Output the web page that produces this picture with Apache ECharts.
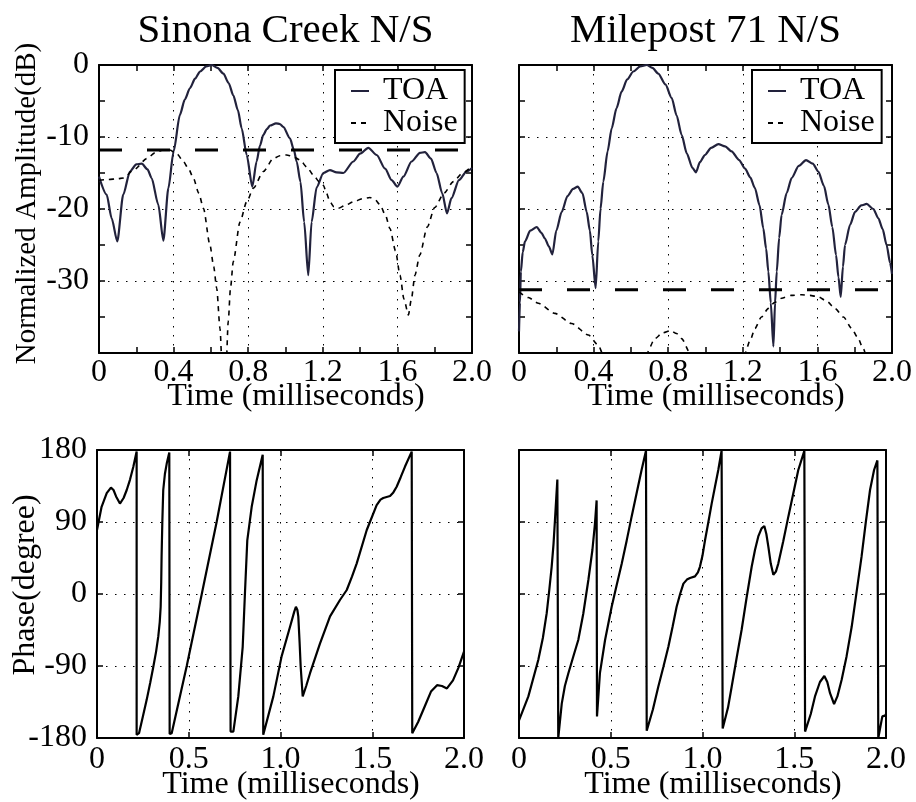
<!DOCTYPE html>
<html><head><meta charset="utf-8">
<script src="https://cdn.jsdelivr.net/npm/echarts@6/dist/echarts.min.js"></script>
<style>html,body{margin:0;padding:0;background:#fff}#c{width:916px;height:802px}</style>
</head><body><div id="c"></div>
<script>
// ---------- data ----------
const panelTitles = ['Sinona Creek N/S', 'Milepost 71 N/S'];
const seriesNames = ['TOA', 'Noise'];
const ampTickValues = [0, -10, -20, -30, -40];
const ampTickLabels = ['0', '-10', '-20', '-30', ''];
const ampTimeTickValues = [0, 0.4, 0.8, 1.2, 1.6, 2.0];
const ampTimeTickLabels = ['0', '0.4', '0.8', '1.2', '1.6', '2.0'];
const phaseTickValues = [180, 90, 0, -90, -180];
const phaseTickLabels = ['180', '90', '0', '-90', '-180'];
const phaseTimeTickValues = [0, 0.5, 1.0, 1.5, 2.0];
const phaseTimeTickLabels = ['0', '0.5', '1.0', '1.5', '2.0'];
const thresholdSinona = -11.8;
const thresholdMilepost = -31.2;

const sinonaToa = [[0,-15.5],[0.041,-18],[0.068,-21.3],[0.098,-24.5],[0.13,-18],[0.166,-14.8],[0.2,-13.8],[0.229,-13.7],[0.26,-14.5],[0.282,-15.7],[0.318,-19.4],[0.345,-24.4],[0.372,-17.1],[0.4,-12],[0.434,-6.9],[0.46,-4.8],[0.488,-3.2],[0.515,-1.9],[0.542,-0.9],[0.575,-0.2],[0.604,0],[0.635,-0.4],[0.667,-1.2],[0.695,-2.5],[0.72,-4.2],[0.745,-6.3],[0.765,-8.8],[0.792,-12.5],[0.822,-16.9],[0.845,-13.4],[0.863,-11.2],[0.881,-9.7],[0.9,-8.9],[0.917,-8.4],[0.949,-8.1],[0.97,-8.2],[0.988,-8.6],[1.024,-10.2],[1.045,-11.8],[1.06,-13.4],[1.08,-16.2],[1.1,-21.8],[1.122,-29.2],[1.14,-21.8],[1.167,-17],[1.203,-15],[1.238,-14.6],[1.274,-14.9],[1.31,-15],[1.364,-13.4],[1.4,-12.3],[1.444,-11.5],[1.489,-12.5],[1.534,-14.4],[1.569,-16],[1.6,-16.9],[1.632,-15.5],[1.676,-13.4],[1.721,-12.2],[1.748,-12.1],[1.78,-13],[1.81,-15],[1.84,-17.8],[1.866,-20.6],[1.89,-18.5],[1.93,-16],[1.97,-14.8],[2.0,-14.3]];
const sinonaNoise = [[0,-16],[0.05,-15.9],[0.1,-15.8],[0.13,-15.7],[0.19,-14.5],[0.256,-13],[0.3,-12.2],[0.345,-11.8],[0.38,-11.8],[0.42,-12.4],[0.452,-13.4],[0.48,-14.4],[0.506,-15.7],[0.535,-17.8],[0.56,-19.9],[0.595,-25],[0.615,-28],[0.631,-31],[0.649,-36.6],[0.66,-42],[0.67,-48],[0.68,-43],[0.693,-35.6],[0.705,-31],[0.72,-27.3],[0.756,-21.8],[0.792,-19],[0.828,-17.1],[0.881,-14.8],[0.935,-13],[0.97,-12.6],[1.006,-12.5],[1.04,-12.7],[1.078,-13.2],[1.115,-14.2],[1.15,-15.3],[1.18,-16.2],[1.203,-16.7],[1.22,-17.8],[1.238,-19],[1.26,-19.7],[1.283,-19.9],[1.32,-19.5],[1.364,-19],[1.41,-18.6],[1.453,-18.4],[1.48,-18.7],[1.507,-19.4],[1.535,-20.8],[1.56,-22.7],[1.59,-25.8],[1.614,-29.2],[1.635,-32.5],[1.659,-34.7],[1.675,-32.5],[1.694,-29.2],[1.72,-26.4],[1.76,-22.5],[1.8,-19.8],[1.85,-17.8],[1.9,-16.2],[1.95,-15],[2.0,-14]];
const milepostToa = [[0,-37],[0.005,-33],[0.01,-28.7],[0.02,-26],[0.032,-24.5],[0.06,-23],[0.095,-22.5],[0.12,-23.3],[0.139,-24.1],[0.16,-25.2],[0.179,-26.3],[0.2,-23],[0.229,-20.4],[0.26,-18.2],[0.29,-17.2],[0.315,-16.9],[0.34,-17.8],[0.363,-20.4],[0.38,-23],[0.393,-26.4],[0.411,-31],[0.425,-24.5],[0.437,-20],[0.452,-16.2],[0.475,-12],[0.497,-8.8],[0.523,-6],[0.55,-3.7],[0.58,-2],[0.613,-0.9],[0.65,-0.2],[0.685,0],[0.715,-0.4],[0.747,-1.2],[0.785,-2.7],[0.819,-4.6],[0.845,-7],[0.872,-9.7],[0.9,-12.3],[0.93,-14.3],[0.949,-14.9],[0.97,-13.5],[0.997,-12.5],[1.03,-11.5],[1.069,-11],[1.105,-11.3],[1.14,-12],[1.18,-13.2],[1.212,-14.4],[1.24,-15.6],[1.265,-17.1],[1.29,-19.5],[1.31,-22.7],[1.325,-25.5],[1.337,-28.7],[1.35,-33],[1.364,-39.1],[1.373,-33],[1.382,-28.7],[1.395,-24],[1.408,-20.8],[1.435,-17.8],[1.462,-15.7],[1.5,-14],[1.539,-13.2],[1.575,-13.7],[1.605,-14.8],[1.635,-16.8],[1.659,-19.4],[1.68,-22.5],[1.7,-26.4],[1.713,-29.5],[1.725,-32.2],[1.737,-28],[1.748,-25],[1.775,-22.2],[1.802,-20.4],[1.835,-19.5],[1.864,-19.3],[1.9,-20],[1.927,-21.3],[1.95,-22.8],[1.971,-25],[1.99,-27.5],[2.0,-29]];
const milepostNoise = [[0,-31.5],[0.05,-32.3],[0.104,-33.1],[0.193,-34.5],[0.282,-35.9],[0.372,-37.5],[0.425,-38.9],[0.452,-40.3],[0.48,-42.5],[0.52,-46],[0.55,-48],[0.62,-46],[0.685,-40],[0.729,-38],[0.77,-37.2],[0.813,-36.9],[0.845,-37.3],[0.872,-38],[0.917,-40],[0.95,-43],[1.0,-47],[1.1,-48],[1.18,-43],[1.212,-40],[1.24,-38.2],[1.265,-36.6],[1.3,-35],[1.337,-33.8],[1.37,-33],[1.408,-32.4],[1.46,-32],[1.516,-31.9],[1.56,-32],[1.605,-32.2],[1.65,-32.8],[1.694,-33.8],[1.74,-35],[1.784,-36.6],[1.815,-37.8],[1.846,-39.4],[1.87,-41],[1.92,-45],[2.0,-50]];
const sinonaPhase = [[0,80],[0.025,109],[0.053,126],[0.076,133],[0.09,130],[0.104,122],[0.125,113],[0.145,120],[0.162,130],[0.18,143],[0.198,159],[0.216,178],[0.216,-176],[0.229,-174],[0.25,-153],[0.271,-132],[0.29,-111],[0.307,-91],[0.322,-72],[0.334,-53],[0.342,-35],[0.347,-16],[0.35,15],[0.352,47],[0.356,90],[0.361,130],[0.37,150],[0.38,163],[0.394,177],[0.396,-175],[0.407,-174],[0.489,-90],[0.571,0],[0.652,90],[0.725,178],[0.728,-172],[0.743,-172],[0.77,-128],[0.794,-66],[0.807,5],[0.819,67],[0.843,109],[0.87,142],[0.903,174],[0.906,-176],[0.916,-176],[0.961,-128],[1.006,-78],[1.052,-41],[1.075,-22],[1.084,-16],[1.092,-20],[1.097,-28],[1.104,-60],[1.11,-91],[1.121,-128],[1.14,-115],[1.161,-99],[1.215,-62],[1.27,-28],[1.324,-7.5],[1.361,5],[1.39,22],[1.415,38],[1.47,80],[1.524,111],[1.545,118],[1.56,120],[1.597,122.5],[1.615,127],[1.633,134],[1.655,146],[1.678,159],[1.715,178],[1.718,-174],[1.75,-160],[1.787,-140],[1.82,-122],[1.853,-114],[1.88,-115],[1.907,-118],[1.94,-108],[1.97,-92],[2.0,-72]];
const milepostPhase = [[0,-158],[0.005,-157.5],[0.051,-128],[0.105,-82.5],[0.13,-55],[0.151,-24],[0.165,5],[0.178,34],[0.188,62],[0.196,92.5],[0.203,120],[0.209,143],[0.212,143],[0.214,-180],[0.22,-178],[0.233,-137],[0.25,-115],[0.269,-99],[0.3,-75],[0.323,-57.5],[0.35,-25],[0.378,17.5],[0.4,55],[0.414,88],[0.423,117],[0.425,-153],[0.441,-99],[0.469,-57.5],[0.505,-16],[0.533,12],[0.56,38],[0.587,67],[0.614,97],[0.64,125],[0.668,155],[0.692,179],[0.696,-171],[0.701,-171],[0.73,-144],[0.759,-116],[0.787,-91],[0.814,-66],[0.837,-41],[0.859,-16],[0.878,0],[0.896,13],[0.915,18],[0.932,20],[0.959,22],[0.975,27],[0.986,34],[1.0,48],[1.014,67.5],[1.032,90],[1.05,113],[1.068,134],[1.086,155],[1.104,179],[1.11,-168],[1.119,-168],[1.139,-142],[1.159,-116],[1.186,-80],[1.213,-45],[1.24,-5],[1.268,34],[1.286,55],[1.304,72],[1.322,82],[1.337,85],[1.348,75],[1.359,59],[1.372,38],[1.386,24],[1.4,28],[1.413,38],[1.44,66],[1.468,97],[1.495,126],[1.522,155],[1.555,179],[1.559,-172],[1.568,-172],[1.59,-150],[1.613,-128],[1.64,-110],[1.664,-102.5],[1.68,-110],[1.695,-124],[1.717,-137.5],[1.735,-128],[1.758,-107.5],[1.785,-78],[1.813,-41],[1.84,3],[1.867,47],[1.89,90],[1.913,130],[1.935,155],[1.953,167],[1.958,-180],[1.967,-178],[1.98,-153],[1.995,-152],[2.0,-150]];

// ---------- layout / style ----------
const FONT = 'Liberation Serif';
const grids = [
  {left: 99, top: 65, width: 373, height: 288},
  {left: 519, top: 65, width: 373, height: 288},
  {left: 97, top: 450, width: 367, height: 288},
  {left: 519, top: 450, width: 367, height: 288}
];
function lookup(vals, labels) {
  return function (v) {
    for (let i = 0; i < vals.length; i++) if (Math.abs(vals[i] - v) < 1e-6) return labels[i];
    return '';
  };
}
const gridLine = {show: true, lineStyle: {color: '#000', width: 1, type: [1.5, 7.5]}};
const axLine = {show: true, onZero: false, lineStyle: {color: '#000', width: 2}};
const tick = {show: true, inside: true, length: 6, lineStyle: {color: '#000', width: 1.5}};
const labelStyle = {color: '#000', fontFamily: FONT, fontSize: 32};

const xAxes = [], yAxes = [];
grids.forEach((g, gi) => {
  const amp = gi < 2;
  const xBase = {
    type: 'value', gridIndex: gi, min: 0, max: 2.0, interval: amp ? 0.4 : 0.5,
    axisLine: axLine, axisTick: tick, nameMoveOverlap: false,
    minorTick: amp ? {show: true, splitNumber: 2, length: 6, lineStyle: {color: '#000', width: 1.5}} : {show: false}
  };
  xAxes.push(Object.assign({}, xBase, {
    position: 'bottom', splitLine: gridLine,
    axisLabel: Object.assign({show: true, margin: amp ? 4 : 6,
      formatter: amp ? lookup(ampTimeTickValues, ampTimeTickLabels) : lookup(phaseTimeTickValues, phaseTimeTickLabels)}, labelStyle),
    name: 'Time (milliseconds)', nameLocation: 'middle', nameGap: amp ? 28 : 31,
    nameTextStyle: {color: '#000', fontFamily: FONT, fontSize: 32, padding: [0, 0, 0, 21]}
  }));
  xAxes.push(Object.assign({}, xBase, {position: 'top', splitLine: {show: false}, axisLabel: {show: false}}));
  const yBase = {
    type: 'value', gridIndex: gi,
    min: amp ? -40 : -180, max: amp ? 0 : 180, interval: amp ? 10 : 90,
    axisLine: axLine, axisTick: tick, nameMoveOverlap: false,
    minorTick: amp ? {show: true, splitNumber: 2, length: 6, lineStyle: {color: '#000', width: 1.5}} : {show: false}
  };
  const showLab = (gi === 0 || gi === 2);
  yAxes.push(Object.assign({}, yBase, {
    position: 'left', splitLine: gridLine,
    axisLabel: Object.assign({show: showLab, margin: 10,
      formatter: amp ? lookup(ampTickValues, ampTickLabels) : lookup(phaseTickValues, phaseTickLabels)}, labelStyle),
    name: gi === 0 ? 'Normalized Amplitude(dB)' : (gi === 2 ? 'Phase(degree)' : ''),
    nameLocation: 'middle', nameRotate: 90, nameGap: gi === 0 ? 57 : 55,
    nameTextStyle: {color: '#000', fontFamily: FONT, fontSize: gi === 0 ? 29 : 32,
      padding: gi === 0 ? [0, 0, 0, 11] : [0, 0, 0, 18]}
  }));
  yAxes.push(Object.assign({}, yBase, {position: 'right', splitLine: {show: false}, axisLabel: {show: false}}));
});

function lineSeries(name, data, gi, style, smooth) {
  return {
    name: name, type: 'line', data: data, xAxisIndex: gi * 2, yAxisIndex: gi * 2,
    showSymbol: false, symbol: 'none', smooth: smooth || false, smoothMonotone: 'x', clip: true, silent: true,
    itemStyle: {color: style.color}, color: style.color,
    lineStyle: style, z: 3
  };
}
const toaStyle = {color: '#22223c', width: 2.2};
const noiseStyle = {color: '#000', width: 1.6, type: [5, 5]};
const thrStyle = {color: '#000', width: 3, type: [23, 25]};

const series = [
  lineSeries('TOA', sinonaToa, 0, toaStyle, 0.25),
  lineSeries('Noise', sinonaNoise, 0, noiseStyle, 0.25),
  lineSeries('Threshold', [[0, thresholdSinona], [2.0, thresholdSinona]], 0, thrStyle),
  lineSeries('TOA', milepostToa, 1, toaStyle, 0.25),
  lineSeries('Noise', milepostNoise, 1, noiseStyle, 0.25),
  lineSeries('Threshold', [[0, thresholdMilepost], [2.0, thresholdMilepost]], 1, thrStyle),
  lineSeries('Phase1', sinonaPhase, 2, {color: '#000', width: 2.2}),
  lineSeries('Phase2', milepostPhase, 3, {color: '#000', width: 2.2})
];

function legendAt(left) {
  return {
    data: seriesNames.map(n => ({name: n})), left: left, top: 70, orient: 'vertical',
    backgroundColor: '#fff', borderColor: '#000', borderWidth: 2, borderRadius: 0,
    padding: [5, 7, 4, 15], itemGap: 0, itemWidth: 18, itemHeight: 14,
    selectedMode: false,
    itemStyle: {opacity: 0},
    textStyle: {color: '#000', fontFamily: FONT, fontSize: 32, lineHeight: 28, padding: [0, 0, 0, 9]}
  };
}

const option = {
  animation: false,
  backgroundColor: '#fff',
  textStyle: {fontFamily: FONT, color: '#000'},
  title: panelTitles.map((t, i) => ({
    text: t, left: grids[i].left + grids[i].width / 2, top: 11, textAlign: 'center', padding: 0,
    textStyle: {color: '#000', fontFamily: FONT, fontSize: 41, fontWeight: 'normal'}
  })),
  legend: [legendAt(335), legendAt(752)],
  grid: grids.map(g => Object.assign({containLabel: false, outerBoundsMode: 'none', show: false}, g)),
  xAxis: xAxes,
  yAxis: yAxes,
  series: series
};
const chart = echarts.init(document.getElementById('c'), null, {renderer: 'canvas'});
chart.setOption(option);
</script>
</body></html>
